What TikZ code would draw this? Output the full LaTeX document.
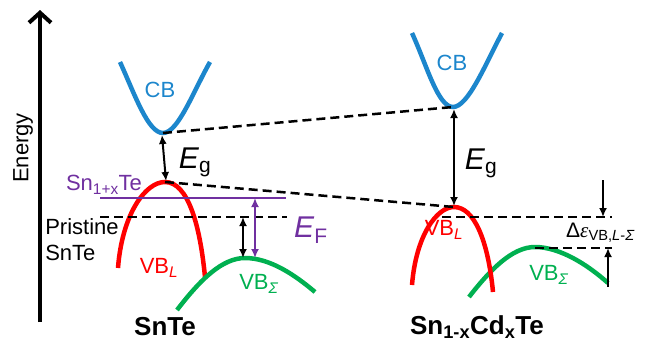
\documentclass[tikz,border=0pt]{standalone}
\usepackage{fontspec}
\setmainfont{Liberation Sans}
\newfontfamily\serifgr{Liberation Serif}
\usetikzlibrary{arrows.meta}
\definecolor{cbblue}{RGB}{28,134,204}
\definecolor{vbred}{RGB}{255,0,0}
\definecolor{vbgreen}{RGB}{0,176,80}
\definecolor{efpurple}{RGB}{112,48,160}
\begin{document}
\begin{tikzpicture}[x=1pt,y=-1pt,
  band/.style={line width=4.5pt},
  level/.style={line width=2.5pt, dash pattern=on 9pt off 5pt},
  dbl/.style={line width=2pt, {Latex[length=9pt,width=8pt]}-{Latex[length=9pt,width=8pt]}},
  sgl/.style={line width=2pt, -{Latex[length=9pt,width=8pt]}},
  lbl/.style={inner sep=0pt, font=\fontsize{22}{26}\selectfont},
  big/.style={inner sep=0pt, font=\fontsize{30}{34}\selectfont},
  title/.style={inner sep=0pt, font=\bfseries\fontsize{26}{30}\selectfont}]
\useasboundingbox (0,0) rectangle (652,346);
% energy axis
\coordinate (axbot) at (40,322);
\coordinate (axtop) at (40,10);
\draw[line width=4pt, -{Straight Barb[length=10pt,width=22pt]}] (axbot) -- (axtop);
\node[lbl, rotate=90] (energy) at (23,148) {Energy};
% ---------- SnTe ----------
\coordinate (cb1l) at (120,62);
\coordinate (cb1min) at (163,133);
\coordinate (cb1r) at (210,62);
\draw[band, cbblue] (cb1l) .. controls (135,95) and (148,133) .. (cb1min) .. controls (178,133) and (193,92) .. (cb1r);
\node[lbl, text=cbblue] (cb1lbl) at (160,90) {CB};
\coordinate (vl1l) at (118,268);
\coordinate (vl1max) at (165,182);
\coordinate (vl1r) at (205,277);
\draw[band, vbred] (vl1l) .. controls (122,215) and (145,182) .. (vl1max) .. controls (188,182) and (200,225) .. (vl1r);
\node[lbl, text=vbred] (vl1lbl) at (159,268) {VB\textsubscript{\textit{L}}};
\coordinate (vs1l) at (177,310);
\coordinate (vs1max) at (245,258);
\coordinate (vs1r) at (315,292);
\draw[band, vbgreen] (vs1l) .. controls (200,280) and (222,258) .. (vs1max) .. controls (270,258) and (295,275) .. (vs1r);
\node[lbl, text=vbgreen] (vs1lbl) at (259,284) {VB\textsubscript{\textit{Σ}}};
% levels
\coordinate (pl) at (100,198); \coordinate (pr) at (286,198);
\draw[line width=2.5pt, efpurple] (pl) -- (pr);
\node[lbl, text=efpurple] (snx) at (104,185) {Sn\textsubscript{1+x}Te};
\coordinate (kl) at (100,217); \coordinate (kr) at (287,217);
\draw[level] (kl) -- (kr);
\node[lbl, align=left] (pristine) at (82,240) {Pristine\\SnTe};
\coordinate (ka) at (243,217); \coordinate (kb) at (243,258);
\draw[dbl] (ka) -- (kb);
\coordinate (pa) at (255,198); \coordinate (pb) at (255,258);
\draw[dbl, efpurple] (pa) -- (pb);
\node[big, text=efpurple] (ef) at (311,230) {\textit{E}\textsubscript{F}};
% Eg SnTe
\coordinate (eg1t) at (162,135); \coordinate (eg1b) at (166,181);
\draw[dbl] (eg1t) -- (eg1b);
\node[big] (eg1) at (195,162) {\textit{E}\textsubscript{g}};
\node[title] (t1) at (165,327) {SnTe};
% ---------- Sn1-xCdxTe ----------
\coordinate (cb2l) at (412,33);
\coordinate (cb2min) at (453,107);
\coordinate (cb2r) at (502,33);
\draw[band, cbblue] (cb2l) .. controls (427,66) and (438,107) .. (cb2min) .. controls (468,107) and (485,65) .. (cb2r);
\node[lbl, text=cbblue] (cb2lbl) at (452,63) {CB};
\coordinate (vl2l) at (412,285);
\coordinate (vl2max) at (454,207);
\coordinate (vl2r) at (493,292);
\coordinate (vs2l) at (469,297);
\coordinate (vs2max) at (535,247);
\coordinate (vs2r) at (608,283);
\draw[band, vbgreen] (vs2l) .. controls (490,270) and (512,247) .. (vs2max) .. controls (560,247) and (588,265) .. (vs2r);
\draw[band, vbred] (vl2l) .. controls (416,235) and (437,207) .. (vl2max) .. controls (474,207) and (488,240) .. (vl2r);
\node[lbl, text=vbred] (vl2lbl) at (444,230) {VB\textsubscript{\textit{L}}};
\node[lbl, text=vbgreen] (vs2lbl) at (549,275) {VB\textsubscript{\textit{Σ}}};
\coordinate (l2a) at (442,217); \coordinate (l2b) at (612,217);
\draw[level] (l2a) -- (l2b);
\coordinate (l3a) at (535,248); \coordinate (l3b) at (612,248);
\draw[level] (l3a) -- (l3b);
\coordinate (da) at (603,180); \coordinate (db) at (603,217);
\draw[sgl] (da) -- (db);
\coordinate (ua) at (608,287); \coordinate (ub) at (608,248);
\draw[sgl] (ua) -- (ub);
\node[inner sep=0pt, anchor=west, font=\fontsize{21}{24}\selectfont] (deps) at (566,233) {Δ{\serifgr\itshape ε}\textsubscript{VB,\textit{L}-\textit{Σ}}};
\coordinate (eg2t) at (454,109); \coordinate (eg2b) at (454,206);
\draw[dbl] (eg2t) -- (eg2b);
\node[big] (eg2) at (481,163) {\textit{E}\textsubscript{g}};
\node[title] (t2) at (477,327) {Sn\textsubscript{1-x}Cd\textsubscript{x}Te};
% connecting dashed lines
\draw[level] (cb1min) -- (cb2min);
\draw[level] (vl1max) -- (vl2max);
\end{tikzpicture}
\end{document}
